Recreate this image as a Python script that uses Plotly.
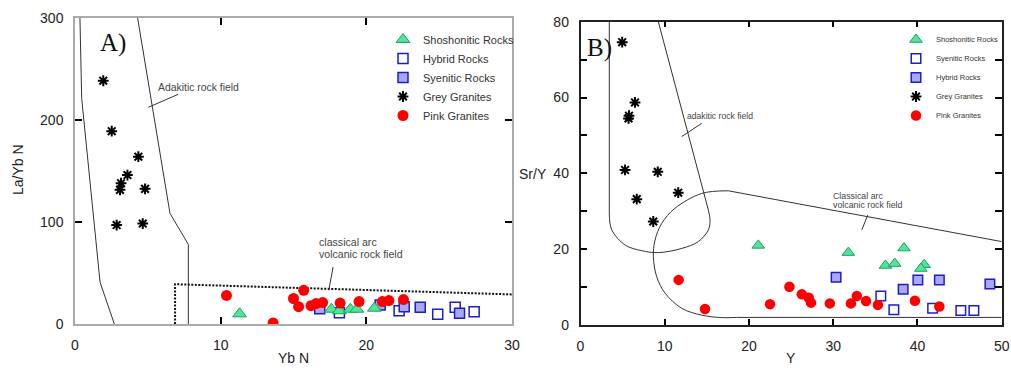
import plotly.graph_objects as go

# ---------------- Panel A: La/Yb N vs Yb N ----------------
A_SHO_X = [11.3, 17.6, 18.15, 18.9, 19.35, 20.55]
A_SHO_Y = [10, 14.5, 13, 14.5, 14.5, 15.5]
A_HYB_X = [18.15, 22.25, 24.9, 26.1, 27.4]
A_HYB_Y = [11, 13, 9.5, 16.4, 12]
A_SYE_X = [16.8, 20.95, 22.6, 23.7, 26.4]
A_SYE_Y = [15, 18.6, 17, 16.5, 10.5]
A_GREY_X = [1.94, 2.52, 4.35, 3.6, 3.16, 3.09, 4.81, 2.86, 4.65]
A_GREY_Y = [238.5, 189, 164, 146, 138, 131.5, 132.5, 97, 98.5]
A_PINK_X = [10.4, 13.6, 15.0, 15.7, 15.35, 16.2, 16.55, 17.0, 18.2, 19.5, 21.1, 21.55, 22.55]
A_PINK_Y = [28, 1, 25, 33, 17, 18, 20, 21, 20.5, 22, 22, 23, 24]

# field boundaries panel A
A_ADK_L_X = [0.34, 0.46, 1.72, 2.70]
A_ADK_L_Y = [300, 221, 41, 0]
A_ADK_R_X = [4.3, 6.52, 7.78, 7.78]
A_ADK_R_Y = [300, 108.5, 78, 0]
A_ARC_X = [6.87, 6.87, 30]
A_ARC_Y = [0, 39, 29]
A_LEAD1_X = [5.04, 7.09]
A_LEAD1_Y = [212.5, 225.2]
A_LEAD2_X = [17.42, 17.72]
A_LEAD2_Y = [33, 56]

# ---------------- Panel B: Sr/Y vs Y ----------------
B_SHO_X = [21.1, 31.8, 38.4, 36.2, 37.3, 40.8, 40.4]
B_SHO_Y = [21.0, 19.1, 20.3, 15.7, 16.2, 15.9, 14.9]
B_SYE_X = [35.65, 37.2, 41.8, 45.15, 46.7]        # open squares
B_SYE_Y = [7.65, 4.0, 4.4, 3.8, 3.8]
B_HYB_X = [30.34, 38.3, 40.05, 42.6, 48.6]        # filled squares
B_HYB_Y = [12.6, 9.4, 11.9, 11.9, 10.8]
B_GREY_X = [4.95, 6.47, 5.76, 5.7, 5.29, 9.17, 6.68, 11.6, 8.64]
B_GREY_Y = [74.6, 58.7, 55.2, 54.5, 40.9, 40.4, 33.2, 34.9, 27.3]
B_PINK_X = [11.65, 14.78, 22.5, 24.8, 26.27, 27.1, 27.36, 29.6, 32.1, 32.8, 33.9, 35.3, 39.7, 42.6]
B_PINK_Y = [11.9, 4.2, 5.5, 10.1, 8.1, 7.2, 5.9, 5.7, 5.7, 7.65, 6.3, 5.3, 6.4, 4.9]

# field boundaries panel B
B_ADK_V_X = [3.42, 3.42]
B_ADK_V_Y = [80, 29.5]
B_ADK_C_X = [3.42, 3.71, 5.29, 7.27, 9.24, 12.02, 13.99, 15.18, 15.38, 15.18]
B_ADK_C_Y = [29.5, 25.1, 21.1, 19.6, 19.1, 20.2, 22.0, 25.1, 27.7, 30.3]
B_ADK_S_X = [15.18, 9.24]
B_ADK_S_Y = [30.3, 80]
B_ARC_T_X = [17.55, 50]
B_ARC_T_Y = [35.4, 22]
B_ARC_C_X = [17.55, 14.39, 11.22, 9.64, 8.85, 8.65, 9.05, 10.04, 12.02, 14.39, 16.77, 18.5]
B_ARC_C_Y = [35.4, 34.7, 30.8, 26.8, 22.4, 18.0, 12.7, 8.4, 4.4, 2.6, 1.95, 2.0]
B_ARC_B_X = [18.5, 50]
B_ARC_B_Y = [2.0, 2.0]
B_LEAD1_X = [12.02, 14.39]
B_LEAD1_Y = [49.7, 53.2]
B_LEAD2_X = [33.4, 34.1]
B_LEAD2_Y = [25.1, 29.0]

SANS = "Liberation Sans, Arial, sans-serif"
SERIF = "Liberation Serif, Times New Roman, serif"

GREEN_FILL = "#52e39c"
GREEN_LINE = "#16a35c"
BLUE_LINE = "#1c1cc8"
BLUE_FILL = "#a9a9f2"
RED = "#ff0000"

fig = go.Figure()

def line(x, y, xa, ya, color="#333333", width=1, dash="solid", shape="linear"):
    fig.add_trace(go.Scatter(x=x, y=y, mode="lines", xaxis=xa, yaxis=ya,
                             line=dict(color=color, width=width, dash=dash, shape=shape, smoothing=1),
                             showlegend=False, hoverinfo="skip"))

# Panel A lines
line(A_ADK_L_X, A_ADK_L_Y, "x", "y")
line(A_ADK_R_X, A_ADK_R_Y, "x", "y")
line(A_ARC_X, A_ARC_Y, "x", "y", color="#111111", width=2, dash="2px,1.5px")
line(A_LEAD1_X, A_LEAD1_Y, "x", "y")
line(A_LEAD2_X, A_LEAD2_Y, "x", "y")

# Panel B lines
line(B_ADK_V_X, B_ADK_V_Y, "x2", "y2")
line(B_ADK_C_X, B_ADK_C_Y, "x2", "y2", shape="spline")
line(B_ADK_S_X, B_ADK_S_Y, "x2", "y2")
line(B_ARC_T_X, B_ARC_T_Y, "x2", "y2")
line(B_ARC_C_X, B_ARC_C_Y, "x2", "y2", shape="spline")
line(B_ARC_B_X, B_ARC_B_Y, "x2", "y2")
line(B_LEAD1_X, B_LEAD1_Y, "x2", "y2")
line(B_LEAD2_X, B_LEAD2_Y, "x2", "y2")

def pts(x, y, xa, ya, name, marker, legend, rank):
    fig.add_trace(go.Scatter(x=x, y=y, mode="markers", xaxis=xa, yaxis=ya, name=name,
                             marker=marker, legend=legend, legendrank=rank, hoverinfo="skip"))

# Panel A markers
pts(A_HYB_X, A_HYB_Y, "x", "y", "Hybrid Rocks",
    dict(symbol="square", size=10, color="white", line=dict(color=BLUE_LINE, width=1.5)), "legend", 2)
pts(A_SYE_X, A_SYE_Y, "x", "y", "Syenitic Rocks",
    dict(symbol="square", size=10, color=BLUE_FILL, line=dict(color=BLUE_LINE, width=1.5)), "legend", 3)
pts(A_SHO_X, A_SHO_Y, "x", "y", "Shoshonitic Rocks",
    dict(symbol="triangle-up", size=12, color=GREEN_FILL, line=dict(color=GREEN_LINE, width=1)), "legend", 1)
pts(A_GREY_X, A_GREY_Y, "x", "y", "Grey Granites",
    dict(symbol="asterisk-open", size=9, color="black", line=dict(color="black", width=2)), "legend", 4)
pts(A_PINK_X, A_PINK_Y, "x", "y", "Pink Granites",
    dict(symbol="circle", size=11, color=RED, line=dict(width=0)), "legend", 5)

# Panel B markers
pts(B_SYE_X, B_SYE_Y, "x2", "y2", "Syenitic Rocks",
    dict(symbol="square", size=9.5, color="white", line=dict(color=BLUE_LINE, width=1.5)), "legend2", 2)
pts(B_HYB_X, B_HYB_Y, "x2", "y2", "Hybrid Rocks",
    dict(symbol="square", size=9.5, color=BLUE_FILL, line=dict(color=BLUE_LINE, width=1.5)), "legend2", 3)
pts(B_SHO_X, B_SHO_Y, "x2", "y2", "Shoshonitic Rocks",
    dict(symbol="triangle-up", size=11, color=GREEN_FILL, line=dict(color=GREEN_LINE, width=1)), "legend2", 1)
pts(B_GREY_X, B_GREY_Y, "x2", "y2", "Grey Granites",
    dict(symbol="asterisk-open", size=9, color="black", line=dict(color="black", width=2)), "legend2", 4)
pts(B_PINK_X, B_PINK_Y, "x2", "y2", "Pink Granites",
    dict(symbol="circle", size=10.5, color=RED, line=dict(width=0)), "legend2", 5)

W, H = 1011, 368
def px(xp):
    return xp / W
def py(yp):
    return (H - yp) / H

tickfont = dict(family=SANS, size=14, color="#222222")
common = dict(showgrid=False, zeroline=False, ticks="inside", tickcolor="black",
              tickfont=tickfont, showline=True, mirror="ticks", fixedrange=True,
              ticklabelstandoff=7, automargin=False)

fig.update_layout(
    template="none",
    width=W, height=H, margin=dict(l=0, r=0, t=0, b=0, pad=0, autoexpand=False),
    paper_bgcolor="white", plot_bgcolor="white",
    font=dict(family=SANS),
    xaxis=dict(domain=[px(75), px(512)], range=[0, 30], tickvals=[0, 10, 20, 30],
               ticklen=7, tickwidth=2, linecolor="#aaaaaa", linewidth=1.5, anchor="y", **common),
    yaxis=dict(domain=[py(324), py(18)], range=[0, 300], tickvals=[0, 100, 200, 300],
               ticklen=7, tickwidth=2, linecolor="#aaaaaa", linewidth=1.5, anchor="x", **common),
    xaxis2=dict(domain=[px(580.5), px(1001.7)], range=[0, 50], tickvals=[0, 10, 20, 30, 40, 50],
                ticklen=6, tickwidth=2, linecolor="#222222", linewidth=1.5, anchor="y2", **common),
    yaxis2=dict(domain=[py(325), py(21.7)], range=[0, 80],
                tickvals=[0, 10, 20, 30, 40, 50, 60, 70, 80],
                ticktext=["0", "", "20", "", "40", "", "60", "", "80"],
                ticklen=7, tickwidth=2, linecolor="#222222", linewidth=1.5, anchor="x2", **common),
    legend=dict(x=px(383), y=py(25), xanchor="left", yanchor="top", bgcolor="rgba(0,0,0,0)",
                font=dict(family=SANS, size=11, color="#333333"), borderwidth=0),
    legend2=dict(x=px(896), y=py(25), xanchor="left", yanchor="top", bgcolor="rgba(0,0,0,0)",
                 font=dict(family=SANS, size=7.5, color="#333333"), borderwidth=0),
    showlegend=True,
)

ann = []
def note(text, x, y, xref, yref, size, color="#444444", family=SANS, xanchor="left", yanchor="middle", angle=0):
    ann.append(dict(text=text, x=x, y=y, xref=xref, yref=yref, showarrow=False,
                    font=dict(family=family, size=size, color=color),
                    xanchor=xanchor, yanchor=yanchor, textangle=angle))

# panel A texts
note("A)", 2.58, 275.2, "x", "y", 25, color="#111111", family=SERIF, xanchor="center")
note("Adakitic rock field", 5.56, 231.4, "x", "y", 10.4)
note("classical arc", 16.64, 80.7, "x", "y", 10.6)
note("volcanic rock field", 16.64, 68.6, "x", "y", 10.6)
# panel B texts
note("B)", 2.2, 73.1, "x2", "y2", 25, color="#111111", family=SERIF, xanchor="center")
note("adakitic rock field", 12.41, 55.0, "x2", "y2", 8.6)
note("Classical arc", 29.7, 34.0, "x2", "y2", 8.8)
note("volcanic rock field", 29.7, 31.7, "x2", "y2", 8.8)

# axis titles
note("La/Yb N", px(18), py(170), "paper", "paper", 14, color="#222222", xanchor="center", angle=-90)
note("Yb N", px(293.5), py(368), "paper", "paper", 14, color="#222222", xanchor="center", yanchor="bottom")
note("Sr/Y", px(532.5), py(174), "paper", "paper", 14, color="#222222", xanchor="center")
note("Y", px(791), py(368), "paper", "paper", 14, color="#222222", xanchor="center", yanchor="bottom")

fig.update_layout(annotations=ann)

fig.write_html("out.html",
               post_script="document.body.style.margin='0';document.body.style.overflow='hidden';")
